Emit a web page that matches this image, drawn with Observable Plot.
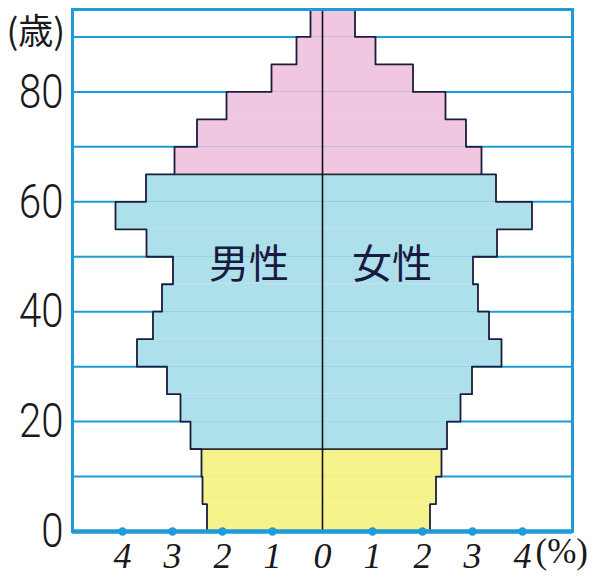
<!DOCTYPE html>
<html>
<head>
<meta charset="utf-8">
<script src="https://cdn.jsdelivr.net/npm/d3@7"></script>
<script src="https://cdn.jsdelivr.net/npm/@observablehq/plot@0.6"></script>
<style>
  html, body { margin: 0; padding: 0; background: #fff; }
  #chart svg { display: block; }
</style>
</head>
<body>
<div id="chart"></div>
<script>
// Age bins (lower bound, 5-year bins; last bin 90+)
const ages = [0, 5, 10, 15, 20, 25, 30, 35, 40, 45, 50, 55, 60, 65, 70, 75, 80, 85, 90];
// Share of total population (%) by age group
const male   = [2.31, 2.40, 2.42, 2.64, 2.84, 3.11, 3.71, 3.39, 3.21, 2.99, 3.52, 4.14, 3.53, 2.96, 2.51, 1.92, 1.02, 0.52, 0.24];
const female = [2.15, 2.27, 2.38, 2.49, 2.76, 2.99, 3.58, 3.33, 3.11, 3.01, 3.49, 4.19, 3.47, 3.18, 2.87, 2.46, 1.81, 1.06, 0.65];
const yTicks = [0, 20, 40, 60, 80];
const xTicks = [-4, -3, -2, -1, 0, 1, 2, 3, 4];
const gridAges = [10, 20, 30, 40, 50, 60, 70, 80, 90];
const sexLabels = ["男性", "女性"];
const yUnit = "(歳)";
const xUnit = "(%)";

const BIN = 5, TOP = 95;
const groupOf = a => a < 15 ? "young" : a < 65 ? "working" : "old";
const fills = {young: "#f6f28c", working: "#ade0eb", old: "#f1c6e1"};

const rows = [];
ages.forEach((a, i) => {
  rows.push({age: a, sex: "male", value: male[i], group: groupOf(a)});
  rows.push({age: a, sex: "female", value: female[i], group: groupOf(a)});
});
const signed = d => d.sex === "male" ? -d.value : d.value;

// outline (step) points per side
const outline = [];
["male", "female"].forEach(sex => {
  const vals = sex === "male" ? male : female;
  const s = sex === "male" ? -1 : 1;
  ages.forEach((a, i) => {
    outline.push({sex, x: s * vals[i], y: a});
    outline.push({sex, x: s * vals[i], y: Math.min(a + BIN, TOP)});
  });
});

// boundary lines between age groups
const bounds = [15, 65].map(b => {
  const i = ages.indexOf(b);
  return {y: b, x1: -male[i], x2: female[i]};
});

const blue = "#1f9bd7";

const plot = Plot.plot({
  width: 606,
  height: 577,
  marginLeft: 72,
  marginRight: 34,
  marginTop: 9,
  marginBottom: 46,
  style: {background: "#fff"},
  x: {domain: [-5, 5], axis: null},
  y: {domain: [0, TOP], axis: null},
  marks: [
    // horizontal grid lines
    Plot.ruleY(gridAges, {stroke: blue, strokeWidth: 2}),
    // bars
    Plot.rectX(rows, {
      x1: 0, x2: signed,
      y1: "age", y2: d => Math.min(d.age + BIN, TOP),
      fill: d => fills[d.group]
    }),
    // group boundaries
    Plot.ruleY(bounds, {y: "y", x1: "x1", x2: "x2", stroke: "#2a2a35", strokeWidth: 1.6}),
    // outline
    Plot.line(outline, {x: "x", y: "y", z: "sex", stroke: "#1c1c3c", strokeWidth: 1.8, curve: "linear"}),
    // center line
    Plot.ruleX([0], {y1: 0, y2: TOP, stroke: "#111", strokeWidth: 1.6}),
    // frame
    Plot.frame({stroke: blue, strokeWidth: 3}),
    Plot.ruleY([0], {stroke: blue, strokeWidth: 4.5}),
    // tick dots on bottom axis
    Plot.dot(xTicks.filter(d => d !== 0), {x: d => d, y: 0, r: 4.2, fill: blue, stroke: null}),
    // axes
    Plot.axisY(yTicks, {
      tickSize: 0, tickPadding: 9,
      fontSize: 49, fontWeight: 300, fontFamily: "Roboto, 'Liberation Sans', sans-serif",
      fill: "#1a1a1a"
    }),
    Plot.axisX(xTicks, {
      tickSize: 0, tickPadding: 11,
      tickFormat: d => String(Math.abs(d)),
      fontSize: 36, fontFamily: "'Liberation Serif', serif", fontStyle: "italic",
      fill: "#1a1a1a"
    }),
    // sex labels
    Plot.text([{x: -1.47, t: sexLabels[0]}, {x: 1.39, t: sexLabels[1]}], {
      x: "x", y: 48.5, text: "t",
      fontSize: 40, fontFamily: "'Noto Sans CJK JP', sans-serif", fill: "#1a1a40"
    }),
    // units
    Plot.text([yUnit], {
      frameAnchor: "top-left", textAnchor: "start", lineAnchor: "middle", dx: -66, dy: 23, text: d => d,
      fontSize: 35, fontFamily: "'Noto Sans CJK JP', sans-serif", fill: "#1a1a1a"
    }),
    Plot.text([xUnit], {
      x: 4, y: 0, textAnchor: "start", lineAnchor: "top", dx: 13, dy: 7, text: d => d,
      fontSize: 35, fontFamily: "'Liberation Serif', serif", fill: "#1a1a1a"
    })
  ]
});
// condense the y-axis digits horizontally (narrow typeface look)
d3.select(plot).selectAll('g[aria-label="y-axis tick label"] text').each(function() {
  const t = this.getAttribute("transform") || "";
  this.setAttribute("transform", t + " scale(0.82,1)");
});
document.getElementById("chart").appendChild(plot);
</script>
</body>
</html>
